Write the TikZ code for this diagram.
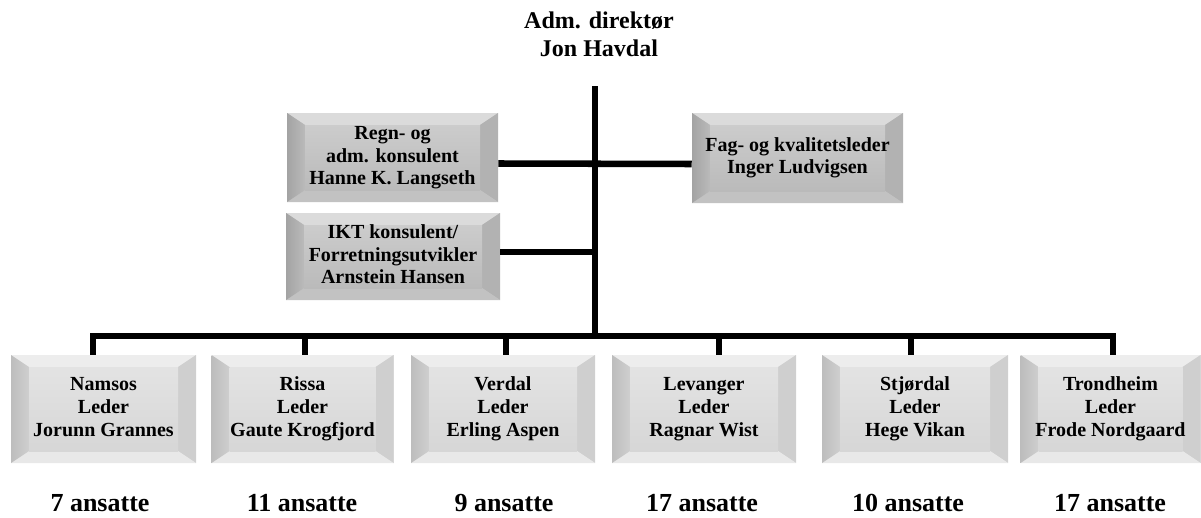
\documentclass[tikz,border=0pt]{standalone}
\usepackage{fontspec}
\setmainfont{Liberation Serif}
\begin{document}
\begin{tikzpicture}[x=0.75pt,y=-0.75pt,
  conn/.style={line width=4.9pt,black},
  bev/.style n args={8}{draw=none,fill=#1,inner sep=0pt,align=center,
    font=\bfseries\fontsize{15}{16.9}\selectfont,
    path picture={
      \path (path picture bounding box.north west) coordinate (A)
            (path picture bounding box.north east) coordinate (B)
            (path picture bounding box.south east) coordinate (C)
            (path picture bounding box.south west) coordinate (D);
      \path ([shift={(18,12)}]A) coordinate (a)
            ([shift={(-18,12)}]B) coordinate (b)
            ([shift={(-18,-12)}]C) coordinate (c)
            ([shift={(18,-12)}]D) coordinate (d);
      \fill[#2] (A)--(B)--(b)--(a)--cycle;
      \fill[#3] (B)--(C)--(c)--(b)--cycle;
      \fill[#4] (C)--(D)--(d)--(c)--cycle;
      \shade[left color=#5,right color=#6] (D)--(A)--(a)--(d)--cycle;
      \shade[top color=#7,bottom color=#8] (a) rectangle (c);
    }},
  darkbox/.style={bev={black!22}{black!14}{black!30}{black!24}{black!36}{black!27}{black!20}{black!27}},
  lightbox/.style={bev={black!10}{black!7}{black!19}{black!9}{black!26}{black!19}{black!11}{black!16}},
  sz/.style 2 args={minimum width=#1*0.75pt,minimum height=#2*0.75pt},
  cnt/.style={font=\bfseries\fontsize{19.5}{22}\selectfont,anchor=base,inner sep=0pt}
]
\useasboundingbox (0,0) rectangle (1201,517);

% title
\node[font=\bfseries\fontsize{18}{21}\selectfont,align=center,inner sep=0pt] (dir) at (599,34)
  {Adm. direktør\\Jon Havdal};

% staff boxes
\node[darkbox,sz={211}{89}] (regn) at (392.5,157.5)
  {\strut Regn- og\\adm. konsulent\\Hanne K. Langseth\strut};
\node[darkbox,sz={211}{90}] (fag) at (797.5,158)
  {\strut Fag- og kvalitetsleder\\Inger Ludvigsen\strut};
\node[darkbox,sz={214}{87}] (ikt) at (393,256.5)
  {\strut IKT konsulent/\\Forretningsutvikler\\Arnstein Hansen\strut};

% unit boxes
\node[lightbox,sz={185}{108}] (b1) at (103.5,409) {\strut Namsos\\Leder\\Jorunn Grannes\strut};
\node[lightbox,sz={182}{108}] (b2) at (302.5,409) {\strut Rissa\\Leder\\Gaute Krogfjord\strut};
\node[lightbox,sz={184}{108}] (b3) at (503,409) {\strut Verdal\\Leder\\Erling Aspen\strut};
\node[lightbox,sz={184}{108}] (b4) at (704,409) {\strut Levanger\\Leder\\Ragnar Wist\strut};
\node[lightbox,sz={186}{108}] (b5) at (915,409) {\strut Stjørdal\\Leder\\Hege Vikan\strut};
\node[lightbox,sz={180}{108}] (b6) at (1110.5,409) {\strut Trondheim\\Leder\\Frode Nordgaard\strut};

% employee counts
\node[cnt] (c1) at (100,511) {7 ansatte};
\node[cnt] (c2) at (302,511) {11 ansatte};
\node[cnt] (c3) at (504,511) {9 ansatte};
\node[cnt] (c4) at (702,511) {17 ansatte};
\node[cnt] (c5) at (908,511) {10 ansatte};
\node[cnt] (c6) at (1110,511) {17 ansatte};

% connectors
\coordinate (top) at (595,86);
\coordinate (bus) at (595,336);
\coordinate (t1) at (93,336);
\coordinate (t2) at (305,336);
\coordinate (t3) at (506,336);
\coordinate (t4) at (719,336);
\coordinate (t5) at (911,336);
\coordinate (t6) at (1113,336);

\draw[conn] (top) -- (bus);
\draw[conn] ([yshift=-4.5pt]regn.east) -- ([yshift=-4.5pt]fag.west);
\draw[conn] ([yshift=3.4pt]ikt.east) -- ([yshift=3.4pt]ikt.east -| top);
\draw[conn,line join=miter] (b1.north -| t1) -- (t1) -- (t6) -- (b6.north -| t6);
\draw[conn] (t2) -- (b2.north -| t2);
\draw[conn] (t3) -- (b3.north -| t3);
\draw[conn] (t4) -- (b4.north -| t4);
\draw[conn] (t5) -- (b5.north -| t5);
\end{tikzpicture}
\end{document}
